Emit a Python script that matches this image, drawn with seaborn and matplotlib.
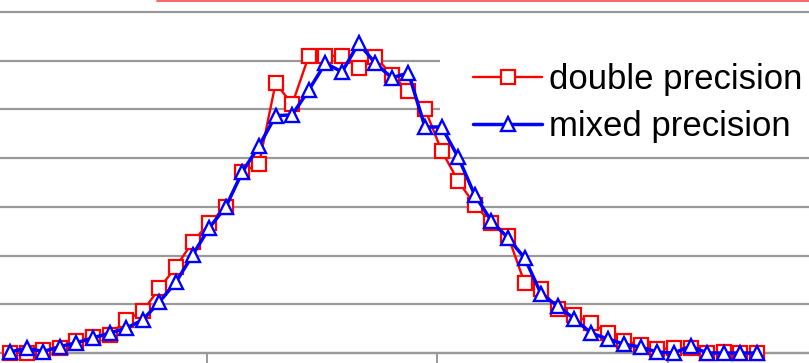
import matplotlib.pyplot as plt
import seaborn as sns
from matplotlib.lines import Line2D
from matplotlib.patches import Rectangle

# bin index along the x axis (46 bins visible in the crop)
bins = list(range(46))

# values in gridline units
double_precision = [
    0.00, 0.01, 0.06, 0.11, 0.25, 0.33, 0.37, 0.68, 0.86, 1.33,
    1.77, 2.28, 2.67, 3.00, 3.72, 3.88, 5.54, 5.11, 6.10, 6.10,
    6.10, 5.85, 6.08, 5.71, 5.38, 5.01, 4.15, 3.53, 3.04, 2.67,
    2.40, 1.44, 1.31, 0.90, 0.78, 0.62, 0.41, 0.25, 0.16, 0.08,
    0.10, 0.10, 0.00, 0.02, 0.00, 0.00,
]
mixed_precision = [
    0.02, 0.10, 0.03, 0.13, 0.21, 0.31, 0.41, 0.51, 0.68, 1.05,
    1.46, 2.01, 2.57, 3.00, 3.72, 4.25, 4.87, 4.89, 5.40, 5.95,
    5.77, 6.36, 5.95, 5.65, 5.75, 4.64, 4.64, 4.02, 3.24, 2.71,
    2.36, 1.95, 1.21, 0.96, 0.70, 0.41, 0.29, 0.18, 0.12, 0.02,
    0.00, 0.14, 0.00, 0.00, 0.00, 0.00,
]
series_labels = ["double precision", "mixed precision"]

sns.set_theme(style="white")
plt.rcParams["font.family"] = ["Liberation Sans", "DejaVu Sans"]

fig = plt.figure(figsize=(8.09, 3.63), dpi=100)
ax = fig.add_axes([0, 0, 1, 1])

grid_color = "#999999"
ax.set_axisbelow(True)
ax.set_yticks(range(8))
ax.yaxis.grid(True, color=grid_color, linewidth=1.6)
ax.tick_params(axis="y", left=False, length=0, labelleft=False)

ax.set_xticks([11.87, 25.72, 39.64])
ax.tick_params(axis="x", bottom=True, direction="out", length=7.2, width=1.4,
               color=grid_color, labelbottom=False)

for side in ["left", "right", "top"]:
    ax.spines[side].set_visible(False)
ax.spines["bottom"].set_position(("data", 0))
ax.spines["bottom"].set_color(grid_color)
ax.spines["bottom"].set_linewidth(1.6)

# white box behind the legend hides the gridlines there
ax.add_patch(Rectangle((0.544, 0.60), 0.46, 0.33, transform=ax.transAxes,
                       facecolor="white", edgecolor="none", zorder=1))

sns.lineplot(x=bins, y=double_precision, ax=ax, color="red", lw=1.7,
             marker="s", markersize=9.5, markerfacecolor="white",
             markeredgecolor="red", markeredgewidth=1.6,
             label=series_labels[0], zorder=3)
sns.lineplot(x=bins, y=mixed_precision, ax=ax, color="blue", lw=2.5,
             marker="^", markersize=9.5, markerfacecolor="white",
             markeredgecolor="blue", markeredgewidth=1.7,
             label=series_labels[1], zorder=4)

ax.set_xlim(-0.602, 48.13)
ax.set_ylim(-0.205, 7.247)
ax.set_xlabel("")
ax.set_ylabel("")

ax.legend(loc="upper left", bbox_to_anchor=(0.5847, 0.826), frameon=False,
          fontsize=25, borderpad=0, borderaxespad=0, labelspacing=0.4,
          handlelength=2.0, handletextpad=0.2, labelcolor="black")

# red border of the box above the chart
fig.add_artist(Line2D([157 / 809, 1], [1 - 0.6 / 363] * 2, color="#ff4a4a",
                      lw=1.2, transform=fig.transFigure))

fig.savefig("out.png", dpi=100)
plt.close(fig)
